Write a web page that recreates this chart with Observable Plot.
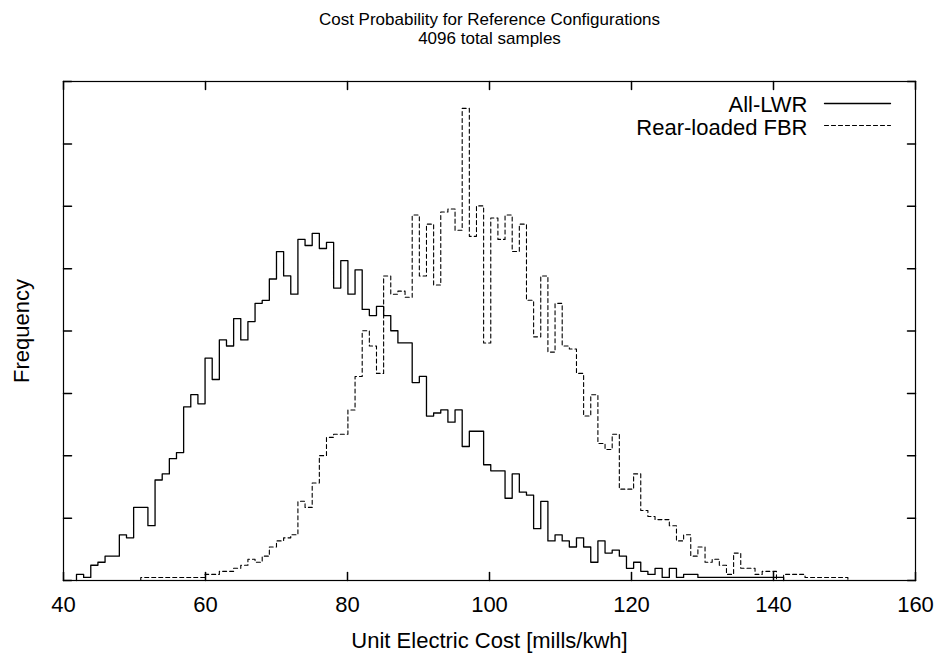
<!DOCTYPE html>
<html>
<head>
<meta charset="utf-8">
<script src="https://cdn.jsdelivr.net/npm/d3@7"></script>
<script src="https://cdn.jsdelivr.net/npm/@observablehq/plot@0.6"></script>
<style>
  html, body { margin: 0; padding: 0; background: #fff; }
  #chart svg { display: block; }
</style>
</head>
<body>
<div id="chart"></div>
<script>
// Histogram of unit electric cost for two reference fuel-cycle configurations.
const title = "Cost Probability for Reference Configurations";
const totalSamples = 4096;
const subtitle = `${totalSamples} total samples`;
const xLabel = "Unit Electric Cost [mills/kwh]";
const yLabel = "Frequency";
const seriesNames = ["All-LWR", "Rear-loaded FBR"];

const xTicks = [40, 60, 80, 100, 120, 140, 160];
const yTicks = [0, 0.005, 0.01, 0.015, 0.02, 0.025, 0.03, 0.035, 0.04];

// Shared binning: left edge of the first bin and bin width (mills/kwh).
const binEdge0 = 41.83;
const binWidth = 1.006;

// Sample counts per bin, All-LWR (starting at bin 0).
const lwrFirstBin = 0;
const lwrCounts = [
  2, 1, 5, 6, 8, 8, 15, 14, 24, 24,
  18, 33, 35, 40, 42, 57, 61, 58, 73, 66,
  79, 77, 86, 79, 85, 91, 92, 99, 108, 100,
  94, 112, 110, 114, 109, 111, 96, 105, 94, 102,
  89, 87, 90, 87, 82, 78, 78, 65, 67, 54,
  55, 56, 52, 56, 44, 49, 49, 38, 36, 36,
  27, 35, 29, 28, 17, 26, 13, 15, 13, 11,
  14, 11, 6, 13, 9, 10, 8, 4, 6, 3,
  2, 4, 1, 4, 1, 2, 2, 1, 1, 1,
  1, 1, 1, 1, 1, 1, 1, 1, 1
];

// Sample counts per bin, Rear-loaded FBR (starting at bin 9).
const fbrFirstBin = 9;
const fbrCounts = [
  1, 1, 1, 1, 1, 1, 1, 1, 1,
  2, 2, 3, 3, 4, 5, 7, 6, 8, 11, 13, 14, 15,
  26, 24, 32, 41, 47, 48, 48, 56, 67, 82,
  77, 68, 100, 94, 95, 93, 120, 100, 117, 97,
  121, 122, 115, 155, 113, 123, 78, 119, 112, 120,
  108, 117, 92, 80, 100, 75, 91, 77, 76, 68,
  54, 61, 45, 43, 48, 30, 30, 35, 23, 21,
  20, 20, 18, 13, 15, 8, 11, 6, 7, 5,
  2, 9, 4, 4, 2, 3, 3, 0, 2, 2, 2,
  1, 1, 1, 1, 1, 1
];

// Turn per-bin counts into an outline (step) path of relative frequency.
function histogramOutline(firstBin, counts) {
  const edge = (k) => binEdge0 + k * binWidth;
  const pts = [{x: edge(firstBin), y: 0}];
  counts.forEach((c, i) => pts.push({x: edge(firstBin + i), y: c / totalSamples}));
  pts.push({x: edge(firstBin + counts.length), y: 0});
  return pts;
}
const lwrSteps = histogramOutline(lwrFirstBin, lwrCounts);
const fbrSteps = histogramOutline(fbrFirstBin, fbrCounts);

const font = "'Liberation Sans', Arial, Helvetica, sans-serif";
const fs = 22;       // axis, label and key text
const titleFs = 17;  // title block
const dash = "4,3";

// A plain straight stroke, used for inward ticks and key samples.
const stroke = {draw(ctx, l) { ctx.moveTo(0, 0); ctx.lineTo(0, -l); }};
const tickLen = 8;

const chart = Plot.plot({
  width: 946,
  height: 658,
  marginTop: 81,
  marginRight: 31,
  marginBottom: 78,
  marginLeft: 63,
  style: {fontFamily: font, fontSize: `${fs}px`, color: "#000", background: "#fff"},
  x: {domain: [40, 160]},
  y: {domain: [0, 0.04], axis: null},
  marks: [
    Plot.line(lwrSteps, {x: "x", y: "y", curve: "step-after", stroke: "#000", strokeWidth: 1.3}),
    Plot.line(fbrSteps, {x: "x", y: "y", curve: "step-after", stroke: "#000", strokeWidth: 1.1, strokeDasharray: dash}),

    // inward ticks on all four sides
    Plot.vector(xTicks, {x: (d) => d, frameAnchor: "bottom", rotate: 0, anchor: "start", length: tickLen, shape: stroke, stroke: "#000"}),
    Plot.vector(xTicks, {x: (d) => d, frameAnchor: "top", rotate: 180, anchor: "start", length: tickLen, shape: stroke, stroke: "#000"}),
    Plot.vector(yTicks, {y: (d) => d, frameAnchor: "left", rotate: 90, anchor: "start", length: tickLen, shape: stroke, stroke: "#000"}),
    Plot.vector(yTicks, {y: (d) => d, frameAnchor: "right", rotate: -90, anchor: "start", length: tickLen, shape: stroke, stroke: "#000"}),

    Plot.axisX(xTicks, {tickSize: 0, tickPadding: 16, label: null, fontSize: fs}),
    Plot.frame({stroke: "#000", strokeWidth: 1.2}),

    // titles and axis labels
    Plot.text([title], {text: (d) => d, frameAnchor: "top", dy: -62, lineAnchor: "middle", fontSize: titleFs}),
    Plot.text([subtitle], {text: (d) => d, frameAnchor: "top", dy: -43, lineAnchor: "middle", fontSize: titleFs}),
    Plot.text([xLabel], {text: (d) => d, frameAnchor: "bottom", dy: 60, lineAnchor: "middle", fontSize: fs}),
    Plot.text([yLabel], {text: (d) => d, frameAnchor: "left", dx: -42, rotate: -90, textAnchor: "middle", lineAnchor: "middle", fontSize: fs}),

    // key
    Plot.text([seriesNames[0]], {text: (d) => d, frameAnchor: "top-right", dx: -108, dy: 23, textAnchor: "end", lineAnchor: "middle", fontSize: fs}),
    Plot.text([seriesNames[1]], {text: (d) => d, frameAnchor: "top-right", dx: -108, dy: 46, textAnchor: "end", lineAnchor: "middle", fontSize: fs}),
    Plot.vector([seriesNames[0]], {frameAnchor: "top-right", dx: -25, dy: 22, rotate: 90, anchor: "end", length: 66, shape: stroke, stroke: "#000", strokeWidth: 1.3}),
    Plot.vector([seriesNames[1]], {frameAnchor: "top-right", dx: -25, dy: 44, rotate: 90, anchor: "end", length: 66, shape: stroke, stroke: "#000", strokeWidth: 1.1, strokeDasharray: dash})
  ]
});

document.getElementById("chart").appendChild(chart);
</script>
</body>
</html>
